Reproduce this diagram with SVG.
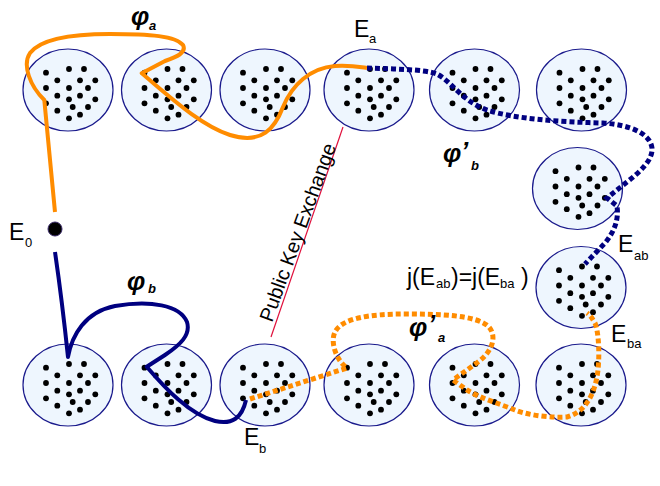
<svg xmlns="http://www.w3.org/2000/svg" xmlns:xlink="http://www.w3.org/1999/xlink" width="660" height="486" viewBox="0 0 660 486">
<style>
.cell{fill:#EEF6FE;stroke:#1A1A8C;stroke-width:1.2}
.dot{fill:#000}
.lbl{font-family:"Liberation Sans",Arial,sans-serif;font-size:23px;fill:#000}
.sub{font-size:13px}
.phi{font-family:"Liberation Sans",Arial,sans-serif;font-weight:bold;font-style:italic;font-size:26px;fill:#000}
.phisub{font-size:13px}
.solidO{fill:none;stroke:#FF8C00;stroke-width:4;stroke-linejoin:round}
.solidB{fill:none;stroke:#000080;stroke-width:4;stroke-linejoin:round}
.dashO{fill:none;stroke:#FF8C00;stroke-width:5;stroke-dasharray:5 3}
.dashB{fill:none;stroke:#000080;stroke-width:5;stroke-dasharray:5 3}
</style>
<defs>
<g id="dots">
<circle class="dot" cx="-22" cy="-17.3" r="2.9"/><circle class="dot" cx="1" cy="-21" r="2.9"/><circle class="dot" cx="16" cy="-21" r="2.9"/>
<circle class="dot" cx="-10.7" cy="-9.7" r="2.9"/><circle class="dot" cx="12" cy="-9.7" r="2.9"/><circle class="dot" cx="27.3" cy="-9.7" r="2.9"/>
<circle class="dot" cx="-22" cy="-2" r="2.9"/><circle class="dot" cx="1" cy="-2" r="2.9"/><circle class="dot" cx="20" cy="-2" r="2.9"/>
<circle class="dot" cx="-10.7" cy="5.7" r="2.9"/><circle class="dot" cx="12" cy="5.7" r="2.9"/>
<circle class="dot" cx="1" cy="9.3" r="2.9"/><circle class="dot" cx="27.3" cy="9.3" r="2.9"/>
<circle class="dot" cx="-22" cy="13.3" r="2.9"/>
<circle class="dot" cx="4.7" cy="17" r="2.9"/><circle class="dot" cx="20" cy="17" r="2.9"/>
<circle class="dot" cx="-10.7" cy="20.7" r="2.9"/>
<circle class="dot" cx="12" cy="24.7" r="2.9"/>
<circle class="dot" cx="1" cy="28.3" r="2.9"/>
</g>
<g id="set"><ellipse class="cell" cx="0" cy="0" rx="45" ry="41"/><use xlink:href="#dots" href="#dots"/></g>
</defs>
<rect width="660" height="486" fill="#fff"/>

<g id="top1" transform="translate(68,90)"><use href="#set" xlink:href="#set"/></g>
<g id="top2" transform="translate(166.5,90)"><use href="#set" xlink:href="#set"/></g>
<g id="top3" transform="translate(265,90)"><use href="#set" xlink:href="#set"/></g>
<g id="Ea" transform="translate(369,90)"><use href="#set" xlink:href="#set"/></g>
<g id="top5" transform="translate(474.5,90)"><use href="#set" xlink:href="#set"/></g>
<g id="top6" transform="translate(581.5,90)"><use href="#set" xlink:href="#set"/></g>
<g id="right1" transform="translate(577.5,188.5)"><use href="#set" xlink:href="#set"/></g>
<g id="Eab" transform="translate(581,287.5)"><use href="#set" xlink:href="#set"/></g>
<g id="bot1" transform="translate(68,385)"><use href="#set" xlink:href="#set"/></g>
<g id="bot2" transform="translate(166.5,385)"><use href="#set" xlink:href="#set"/></g>
<g id="Eb" transform="translate(265,385)"><use href="#set" xlink:href="#set"/></g>
<g id="bot4" transform="translate(369,385)"><use href="#set" xlink:href="#set"/></g>
<g id="bot5" transform="translate(474.5,385)"><use href="#set" xlink:href="#set"/></g>
<g id="Eba" transform="translate(581,385)"><use href="#set" xlink:href="#set"/></g>
<g id="E0"><circle cx="55" cy="229" r="7" fill="#000" stroke="#3A2A6A" stroke-width="1"/></g>

<g id="connectors">
<line x1="343" y1="127" x2="271" y2="337" stroke="#E0103C" stroke-width="1.2"/>
<path class="solidO" d="M55,212 L44.3,100 C30,86 22,65 30,53 C40,40 70,34 110,34 C150,34 176,36 183,45 C187,53 176,57 165,61 L141.7,73.3 C170,97 200,125 230,135 C262,145 275,128 283,107 C292,85 310,68 335,66 C350,65 360,67 367,68"/>
<path class="dashB" d="M367,68 C390,69 425,69 437,74 C452,82 462,101 487,110 C515,119 560,122 603,123 C630,125 650,133 652,148 C653,160 640,172 627,182 L607,198 L617,206 C619,220 614,232 605,243 L585,264"/>
<path class="solidB" d="M55,252 Q62,300 68,357 C72,335 85,312 115,306 C150,300 180,305 187,322 C191,335 180,345 165,355 L146.7,366.7 C165,388 190,415 215,421 C232,425 242,418 246,400"/>
<path class="dashO" d="M250,399 L347,368 C336,360 330,342 335,332 C342,318 370,314 405,314 C440,314 475,315 488,326 C498,336 492,352 478,362 L453,380 L467,390 C480,398 500,404 515,410 C530,416 555,418 567,417 C585,412 595,395 598,370 C600,350 598,330 595,323 C592,318 590,315 587,313"/>
</g>

<g id="labels">
<text class="phi" x="131" y="25">φ<tspan class="phisub" x="149" y="30">a</tspan></text>
<text class="phi" x="127" y="290">φ<tspan class="phisub" x="148" y="293">b</tspan></text>
<text class="phi" x="443" y="162">φ<tspan x="461" y="160">’</tspan><tspan class="phisub" x="471" y="170">b</tspan></text>
<text class="phi" x="409" y="336">φ<tspan x="428" y="333">’</tspan><tspan class="phisub" x="438" y="342">a</tspan></text>
<text class="lbl" x="9" y="240">E<tspan class="sub" x="25" y="247">0</tspan></text>
<text class="lbl" x="354" y="37">E<tspan class="sub" x="369" y="43">a</tspan></text>
<text class="lbl" x="244" y="445">E<tspan class="sub" x="259" y="453">b</tspan></text>
<text class="lbl" x="618" y="252">E<tspan class="sub" x="634" y="260">ab</tspan></text>
<text class="lbl" x="611" y="342">E<tspan class="sub" x="627" y="348">ba</tspan></text>
<text class="lbl" x="407" y="285">j(E<tspan class="sub" x="436" y="288">ab</tspan><tspan x="451" y="285">)=j(E</tspan><tspan class="sub" x="500" y="288">ba</tspan><tspan x="521" y="285">)</tspan></text>
<text class="lbl" style="font-size:20px" x="272" y="323" transform="rotate(-70 272 323)" textLength="188" lengthAdjust="spacingAndGlyphs">Public Key Exchange</text>
</g>
</svg>
